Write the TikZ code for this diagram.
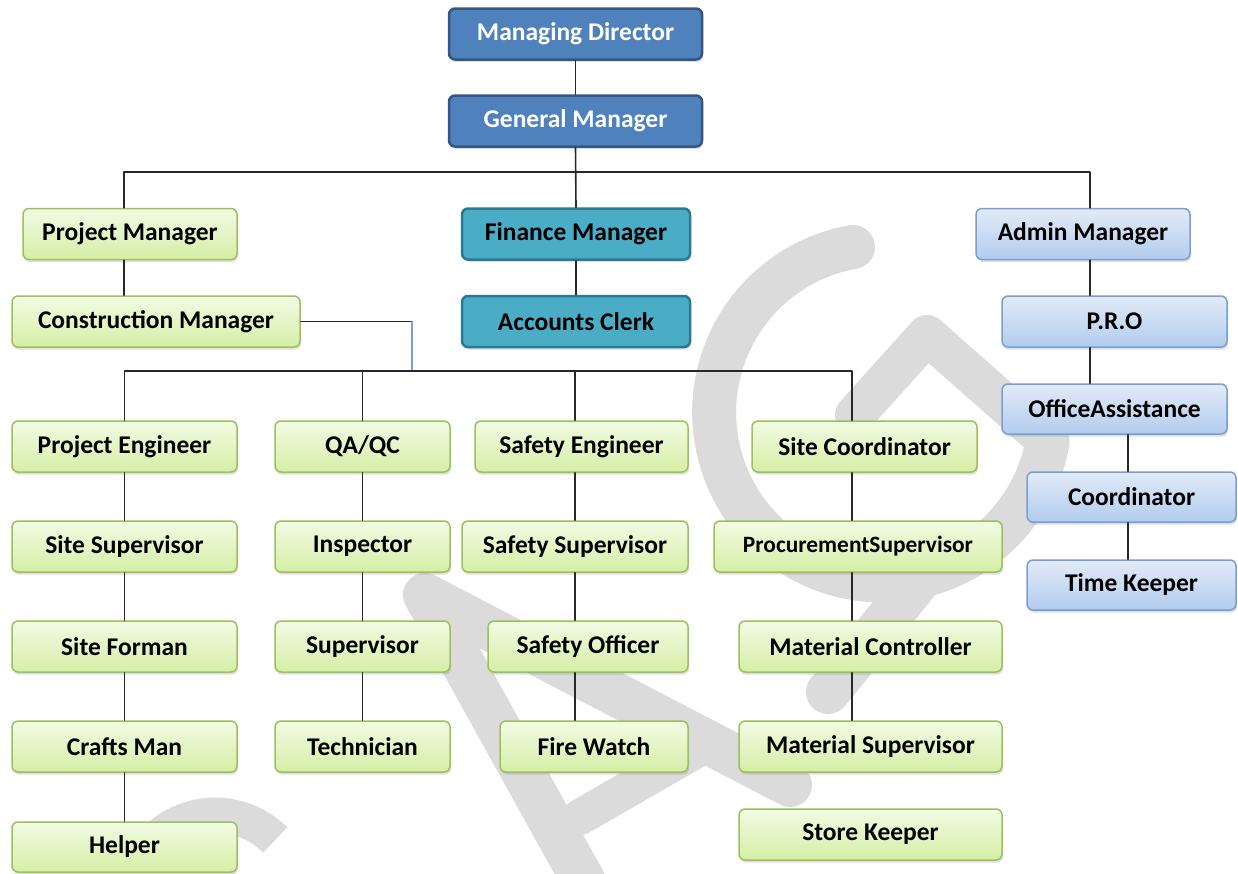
\documentclass[tikz,border=0pt]{standalone}
\usepackage{fontspec}
\setmainfont{Carlito}
\usepackage{tikz}
\usetikzlibrary{shadows}

\definecolor{topfill}{RGB}{79,129,189}
\definecolor{topline}{RGB}{52,86,132}
\definecolor{finfill}{RGB}{75,172,198}
\definecolor{finline}{RGB}{42,122,146}
\definecolor{admtop}{RGB}{226,235,248}
\definecolor{admbot}{RGB}{178,204,238}
\definecolor{admline}{RGB}{122,158,210}
\definecolor{sitetop}{RGB}{242,251,228}
\definecolor{sitebot}{RGB}{214,238,166}
\definecolor{siteline}{RGB}{155,192,92}
\definecolor{linkgray}{RGB}{40,40,40}
\definecolor{linkblue}{RGB}{120,160,212}
\definecolor{wmgray}{RGB}{219,219,219}

\begin{document}
\begin{tikzpicture}[line cap=round,line join=round,x=1pt,y=-1pt,
  box/.style={rounded corners=6pt,minimum height=51pt,inner sep=0pt,
    font=\fontsize{25.5}{30}\selectfont\bfseries,
    drop shadow={shadow xshift=1pt,shadow yshift=-2.5pt,opacity=0.25}},
  topbox/.style={box,fill=topfill,draw=topline,line width=2.5pt,text=white},
  finbox/.style={box,fill=finfill,draw=finline,line width=2.5pt},
  admbox/.style={box,top color=admtop,bottom color=admbot,draw=admline,line width=1.5pt},
  sitebox/.style={box,top color=sitetop,bottom color=sitebot,draw=siteline,line width=1.5pt},
  link/.style={draw=linkgray,line width=1.6pt},
  wm/.style={draw=wmgray,line width=44pt}]
\fill[white] (0,0) rectangle (1238,873);
\useasboundingbox (0,0) rectangle (1238,873);

\draw[wm] (583,880) -- (425,595) -- (790,785);
\draw[wm,line width=36pt] (580,817) -- (700,748);
\draw[wm] (853,247) arc[start angle=260,end angle=10,radius=168];
\draw[wm,line width=40pt] (855,415) -- (927,335) -- (1047,441);
\draw[wm] (915,585) -- (828,692);
\draw[wm,line width=35pt,line cap=butt] (155,840) arc[start angle=225,end angle=315,radius=85];

\node[topbox,minimum width=253pt] (md) at (575.5,34) {Managing Director};
\node[topbox,minimum width=253pt] (gm) at (575.5,121) {General Manager};

\node[sitebox,minimum width=214pt] (pm) at (130,234) {Project Manager};
\node[finbox,minimum width=228pt] (fm) at (576,234) {Finance Manager};
\node[admbox,minimum width=214pt] (am) at (1083,234) {Admin Manager};

\node[sitebox,minimum width=288pt] (cm) at (156,321.5) {Construction Manager};
\node[finbox,minimum width=228pt] (ac) at (576,321.5) {Accounts Clerk};
\node[admbox,minimum width=225pt] (pro) at (1114.5,321.5) {P.R.O};
\node[admbox,minimum width=225pt,minimum height=50pt] (oa) at (1114.5,409) {OfficeAssistance};
\node[admbox,minimum width=209pt,minimum height=50pt] (co) at (1131.5,497) {Coordinator};
\node[admbox,minimum width=209pt,minimum height=50pt] (tk) at (1131.5,585) {Time Keeper};

\node[sitebox,minimum width=225pt] (pe) at (124.5,446.5) {Project Engineer};
\node[sitebox,minimum width=175pt] (qa) at (362.5,446.5) {QA/QC};
\node[sitebox,minimum width=213pt] (se) at (581.5,446.5) {Safety Engineer};
\node[sitebox,minimum width=225pt] (sc) at (864.5,446.5) {Site Coordinator};

\node[sitebox,minimum width=225pt] (ss) at (124.5,546.5) {Site Supervisor};
\node[sitebox,minimum width=175pt] (ins) at (362.5,546.5) {Inspector};
\node[sitebox,minimum width=226pt] (ssup) at (575,546.5) {Safety Supervisor};
\node[sitebox,minimum width=288pt,font=\fontsize{23.4}{28}\selectfont\bfseries] (ps) at (858,546.5) {ProcurementSupervisor};

\node[sitebox,minimum width=225pt] (sf) at (124.5,646.5) {Site Forman};
\node[sitebox,minimum width=175pt] (sup) at (362.5,646.5) {Supervisor};
\node[sitebox,minimum width=200pt] (so) at (588,646.5) {Safety Officer};
\node[sitebox,minimum width=263pt] (mc) at (870.5,646.5) {Material Controller};

\node[sitebox,minimum width=225pt] (cman) at (124.5,746.5) {Crafts Man};
\node[sitebox,minimum width=175pt] (tech) at (362.5,746.5) {Technician};
\node[sitebox,minimum width=188pt] (fw) at (594,746.5) {Fire Watch};
\node[sitebox,minimum width=263pt] (ms) at (870.5,746.5) {Material Supervisor};

\node[sitebox,minimum width=225pt,minimum height=50pt] (hel) at (124.5,847) {Helper};
\node[sitebox,minimum width=263pt] (sk) at (870.5,834.5) {Store Keeper};

\coordinate (bus1) at (575.5,172);
\coordinate (bus2) at (412,371);
\coordinate (colse) at (575,0);
\coordinate (colsc) at (852,0);
\coordinate (colam) at (1090,0);
\coordinate (colco) at (1128,0);

\draw[link] (md.south) -- (gm.north);
\draw[link] (gm.south) -- (fm.north);
\draw[link] ([xshift=-6pt]pm.north) |- (bus1) -| (am.north -| colam);
\draw[link] (fm.south) -- (ac.north);
\draw[link] ([xshift=-6pt]pm.south) -- ([xshift=-6pt]pm.south |- cm.north);
\draw[link] (cm.east) -- (cm.east -| bus2);
\draw[link,draw=linkblue] (cm.east -| bus2) -- (bus2);
\draw[link] (pe.north) |- (bus2) -| (sc.north -| colsc);
\draw[link] (qa.north) -- (qa.north |- bus2);
\draw[link] (se.north -| colse) -- (colse |- bus2);

\foreach \a/\b in {pe/ss,ss/sf,sf/cman,cman/hel,qa/ins,ins/sup,sup/tech}
  \draw[link] (\a.south) -- (\b.north);
\foreach \a/\b in {se/ssup,ssup/so,so/fw}
  \draw[link] (\a.south -| colse) -- (\b.north -| colse);
\foreach \a/\b in {sc/ps,ps/mc,mc/ms}
  \draw[link] (\a.south -| colsc) -- (\b.north -| colsc);
\foreach \a/\b in {am/pro,pro/oa}
  \draw[link] (\a.south -| colam) -- (\b.north -| colam);
\foreach \a/\b in {oa/co,co/tk}
  \draw[link] (\a.south -| colco) -- (\b.north -| colco);

\end{tikzpicture}
\end{document}
